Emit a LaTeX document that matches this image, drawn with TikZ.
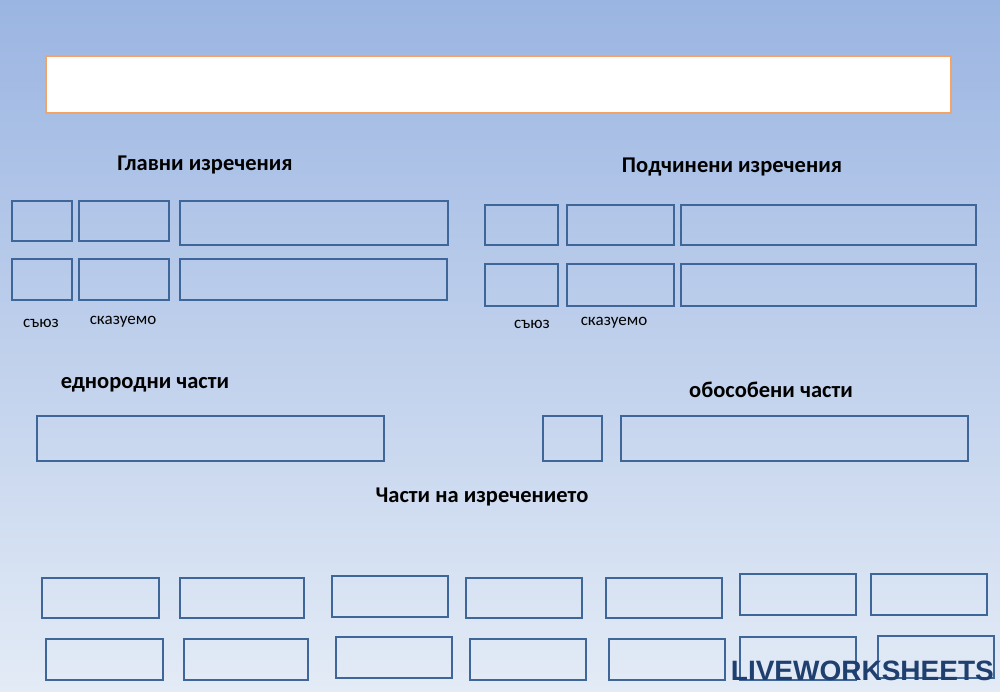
\documentclass[tikz,border=0pt]{standalone}
\usepackage{fontspec}
\setmainfont{Carlito}
\newfontfamily\wmfont{Liberation Sans}
\definecolor{bx}{HTML}{3F6699}
\definecolor{wmc}{HTML}{1F3F6E}
\definecolor{bgtop}{HTML}{9BB5E2}
\definecolor{bgbot}{HTML}{E3EBF6}
\definecolor{org}{HTML}{F2A468}
\begin{document}
\begin{tikzpicture}[x=1pt,y=-1pt,
 bb/.style={draw=bx,line width=2.2pt},
 hd/.style={font=\bfseries\fontsize{22.5}{26}\selectfont,text=black},
 lb/.style={font=\fontsize{17}{20}\selectfont,text=black}]
\shade[top color=bgtop,bottom color=bgbot] (0,0) rectangle (1000,692);
\useasboundingbox (0,0) rectangle (1000,692);
\draw[draw=org,line width=2pt,fill=white] (46,56) rectangle (951,113);
\foreach \a/\b/\c/\d in {12/201/72/241,79/201/169/241,180/201/448/245,12/259/72/300,79/259/169/300,180/259/447/300,
485/205/558/245,567/205/674/245,681/205/976/245,485/264/558/306,567/264/674/306,681/264/976/306,
37/416/384/461,543/416/602/461,621/416/968/461,
42/578/159/618,180/578/304/618,332/576/448/617,466/578/582/618,606/578/722/618,740/574/856/615,871/574/987/615,
46/639/163/680,184/639/308/680,336/637/452/678,470/639/586/680,609/639/725/680,740/637/856/680,878/636/994/678}
 \draw[bb] (\a,\b) rectangle (\c,\d);
\node[hd] (h1) at (205,165) {Главни изречения};
\node[hd] (h2) at (732,167) {Подчинени изречения};
\node[hd] (h3) at (145,385) {еднородни части};
\node[hd] (h4) at (771,390) {обособени части};
\node[hd] (h5) at (482,497) {Части на изречението};
\node[lb] (l1) at (41,323) {съюз};
\node[lb] (l2) at (123,322) {сказуемо};
\node[lb] (l3) at (532,324) {съюз};
\node[lb] (l4) at (614,323) {сказуемо};
\node[font=\wmfont\bfseries\fontsize{28}{30}\selectfont,text=wmc,anchor=east,inner sep=0] (wm) at (994,671) {LIVEWORKSHEETS};
\end{tikzpicture}
\end{document}
